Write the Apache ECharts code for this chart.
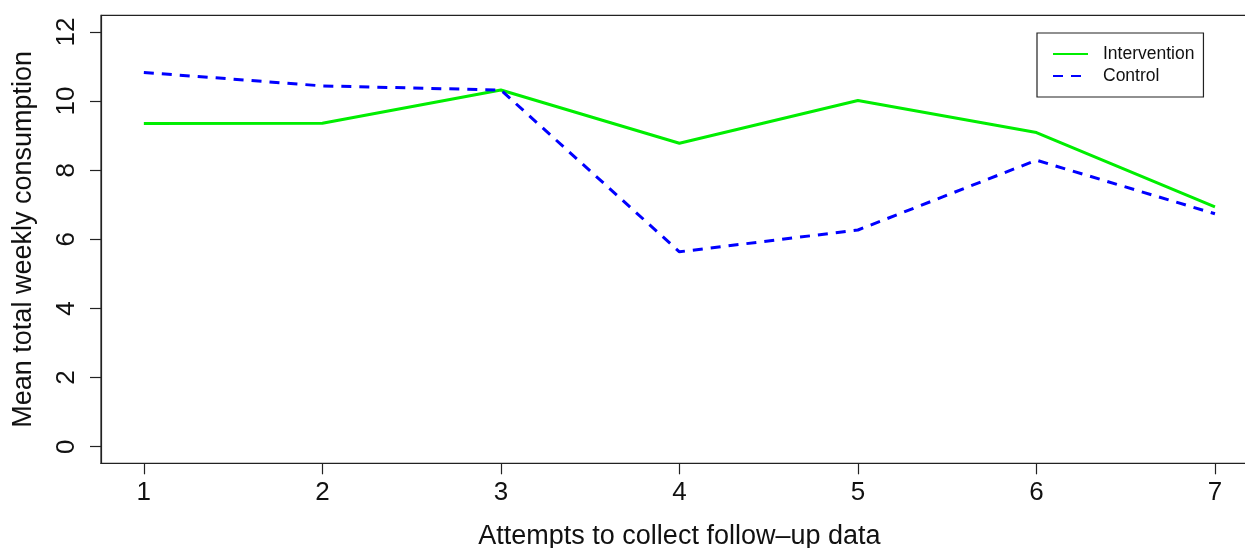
<!DOCTYPE html>
<html>
<head>
<meta charset="utf-8">
<script src="https://cdn.jsdelivr.net/npm/echarts@6/dist/echarts.min.js"></script>
<style>
html,body{margin:0;padding:0;background:#fff;}
#c{width:1245px;height:548px;}
</style>
</head>
<body>
<div id="c"></div>
<script>
const attempts = [1, 2, 3, 4, 5, 6, 7];
const intervention = [9.35, 9.36, 10.32, 8.78, 10.02, 9.09, 6.94];
const control = [10.83, 10.44, 10.32, 5.64, 6.27, 8.29, 6.74];
const xTicks = [1, 2, 3, 4, 5, 6, 7];
const yTicks = [0, 2, 4, 6, 8, 10, 12];
const seriesNames = ['Intervention', 'Control'];
const xTitle = 'Attempts to collect follow\u2013up data';
const yTitle = 'Mean total weekly consumption';

const FONT = '"Liberation Sans", Arial, Helvetica, sans-serif';
const AX = '#222';
const chart = echarts.init(document.getElementById('c'), null, {renderer: 'canvas'});
chart.setOption({
  animation: false,
  backgroundColor: '#fff',
  grid: {
    left: 101, top: 15.4, bottom: 84.7, right: -12.8,
    show: true, borderColor: AX, borderWidth: 1.2, backgroundColor: 'transparent',
    outerBoundsMode: 'none', containLabel: false
  },
  legend: {
    orient: 'vertical', left: 1037, top: 33,
    padding: [12, 9, 12, 15],
    borderColor: AX, borderWidth: 1.2, backgroundColor: '#fff',
    itemWidth: 35, itemHeight: 14, itemGap: 4,
    itemStyle: {opacity: 0},
    textStyle: {fontFamily: FONT, fontSize: 17.5, color: '#111', padding: [0, 0, 0, 10]},
    data: seriesNames
  },
  xAxis: {
    type: 'value', min: 0.76, max: 7.24,
    name: xTitle, nameLocation: 'middle', nameGap: 60,
    nameTextStyle: {fontFamily: FONT, fontSize: 27, color: '#111'},
    axisLine: {show: true, onZero: false, lineStyle: {color: AX, width: 1.2}},
    axisTick: {show: true, length: 11, lineStyle: {color: AX, width: 1.2}, customValues: xTicks},
    axisLabel: {fontFamily: FONT, fontSize: 26, color: '#111', margin: 17, customValues: xTicks, formatter: v => String(v)},
    splitLine: {show: false}
  },
  yAxis: {
    type: 'value', min: -0.48, max: 12.48,
    name: yTitle, nameLocation: 'middle', nameGap: 64, nameRotate: 90,
    nameTextStyle: {fontFamily: FONT, fontSize: 27, color: '#111'},
    axisLine: {show: true, onZero: false, lineStyle: {color: AX, width: 1.2}},
    axisTick: {show: true, length: 11, lineStyle: {color: AX, width: 1.2}, customValues: yTicks},
    axisLabel: {fontFamily: FONT, fontSize: 26, color: '#111', margin: 21, rotate: 90, customValues: yTicks, formatter: v => String(v)},
    splitLine: {show: false}
  },
  series: [
    {
      name: seriesNames[0], type: 'line', symbol: 'none',
      data: attempts.map((x, i) => [x, intervention[i]]),
      lineStyle: {color: '#00ee00', width: 3},
      itemStyle: {color: '#00ee00'}
    },
    {
      name: seriesNames[1], type: 'line', symbol: 'none',
      data: attempts.map((x, i) => [x, control[i]]),
      lineStyle: {color: '#0000ff', width: 3, type: [10, 8]},
      itemStyle: {color: '#0000ff'}
    }
  ]
});
</script>
</body>
</html>
